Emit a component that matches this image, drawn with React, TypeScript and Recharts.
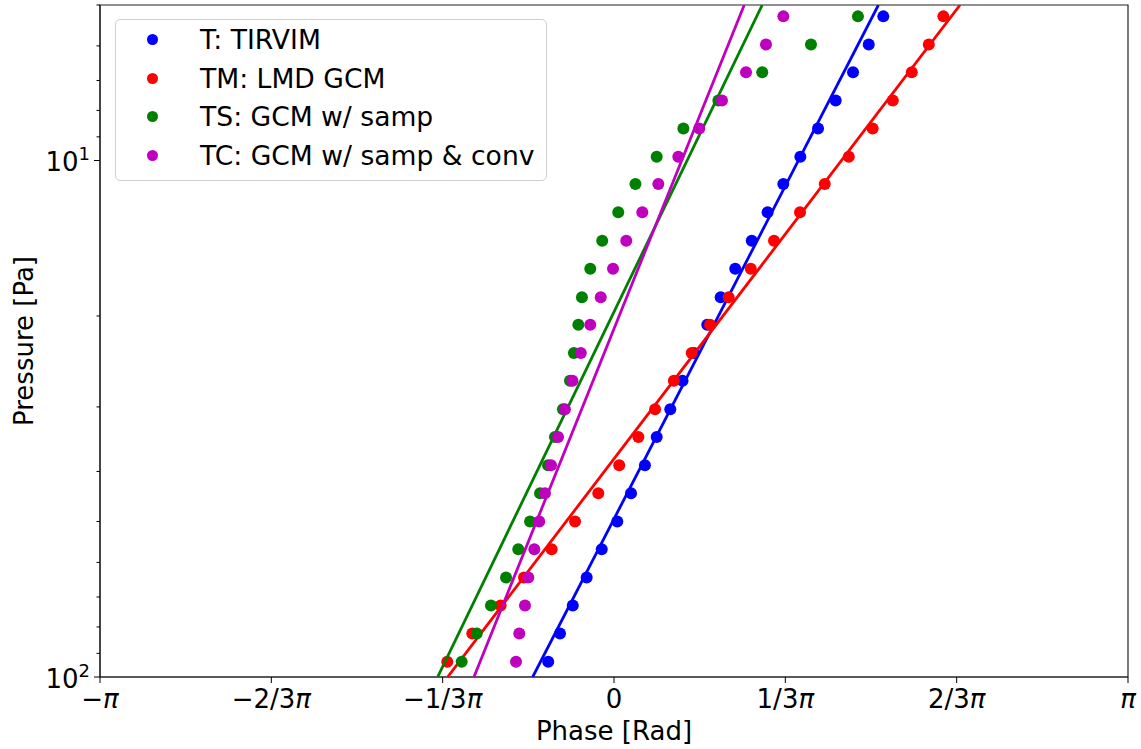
import { ScatterChart, Scatter, XAxis, YAxis, ReferenceArea, Legend } from 'recharts';

// pressure levels shared by all profiles [Pa], bottom to top
const pressureLevels = [
  93.4, 82.4, 72.7, 64.2, 56.6, 50.0, 44.1, 38.9, 34.3, 30.3, 26.7, 23.6,
  20.8, 18.4, 16.2, 14.3, 12.6, 11.1, 9.83, 8.67, 7.65, 6.75, 5.96, 5.26,
];

// phase [rad] at each level
const tirvim = [
  -0.402, -0.33, -0.252, -0.167, -0.075, 0.02, 0.104, 0.189, 0.261, 0.344, 0.419, 0.489,
  0.57, 0.652, 0.741, 0.842, 0.939, 1.035, 1.139, 1.247, 1.355, 1.461, 1.557, 1.646,
];
const lmdGcm = [
  -1.019, -0.866, -0.693, -0.55, -0.381, -0.238, -0.096, 0.032, 0.149, 0.251, 0.366, 0.475,
  0.587, 0.701, 0.836, 0.978, 1.137, 1.288, 1.435, 1.581, 1.704, 1.82, 1.924, 2.013,
];
const gcmSamp = [
  -0.931, -0.839, -0.752, -0.66, -0.585, -0.513, -0.452, -0.403, -0.361, -0.312, -0.269, -0.245,
  -0.218, -0.196, -0.145, -0.072, 0.026, 0.131, 0.261, 0.424, 0.638, 0.906, 1.204, 1.491,
];
const gcmSampConv = [
  -0.599, -0.579, -0.544, -0.524, -0.487, -0.457, -0.422, -0.385, -0.342, -0.3, -0.254, -0.203,
  -0.145, -0.081, -0.006, 0.075, 0.173, 0.271, 0.393, 0.521, 0.66, 0.807, 0.929, 1.035,
];

// fitted lines: phase at the bottom (100 Pa) and top (5 Pa) of the plot
const fitPressures = [100, 5];
const fitT = [-0.497, 1.616];
const fitTM = [-1.017, 2.115];
const fitTS = [-1.078, 0.906];
const fitTC = [-0.856, 0.796];

const phaseTicks = [-Math.PI, (-2 * Math.PI) / 3, -Math.PI / 3, 0, Math.PI / 3, (2 * Math.PI) / 3, Math.PI];
const phaseLabels = ['−π', '−2/3π', '−1/3π', '0', '1/3π', '2/3π', 'π'];
const pressureTicks = [5, 6, 7, 8, 9, 10, 20, 30, 40, 50, 60, 70, 80, 90, 100];
const majorPressure: Record<number, string> = { 10: '1', 100: '2' };

const series = [
  { name: 'T: TIRVIM', color: '#0000ff', phases: tirvim, fit: fitT },
  { name: 'TM: LMD GCM', color: '#ff0000', phases: lmdGcm, fit: fitTM },
  { name: 'TS: GCM w/ samp', color: '#008000', phases: gcmSamp, fit: fitTS },
  { name: 'TC: GCM w/ samp & conv', color: '#bf00bf', phases: gcmSampConv, fit: fitTC },
];

const FONT = 'DejaVu Sans';
const FS = 26;

const toPoints = (phases: number[], levels: number[]) =>
  phases.map((phase, i) => ({ phase, p: levels[i] }));

function PhaseTick({ x, y, payload }: any) {
  let idx = 0;
  phaseTicks.forEach((t, i) => {
    if (Math.abs(t - payload.value) < 1e-6) idx = i;
  });
  const label = phaseLabels[idx];
  const parts = label.split('π');
  return (
    <g>
      <line x1={x} x2={x} y1={y} y2={y + 6} stroke="#000" strokeWidth={1} />
      <text x={x} y={y + 31} textAnchor="middle" fontFamily={FONT} fontSize={FS} fill="#000">
        {parts[0]}
        {label.includes('π') && <tspan fontStyle="italic">π</tspan>}
      </text>
    </g>
  );
}

function PressureTick({ x, y, payload }: any) {
  const exp = majorPressure[payload.value];
  if (!exp) {
    return <line x1={x - 3.5} x2={x} y1={y} y2={y} stroke="#000" strokeWidth={1} />;
  }
  return (
    <g>
      <line x1={x - 6} x2={x} y1={y} y2={y} stroke="#000" strokeWidth={1} />
      <text x={x - 10} y={y + 11} textAnchor="end" fontFamily={FONT} fontSize={FS} fill="#000">
        10
        <tspan dy={-11} fontSize={18}>{exp}</tspan>
      </text>
    </g>
  );
}

function LegendBox() {
  return (
    <div
      style={{
        position: 'relative',
        width: 432,
        height: 162,
        boxSizing: 'border-box',
        border: '1px solid #d0d0d0',
        borderRadius: 5,
        background: 'rgba(255,255,255,0.8)',
        fontFamily: FONT,
        fontSize: 26.6,
      }}
    >
      {series.map((s, i) => (
        <div
          key={s.name}
          style={{ position: 'absolute', left: 0, top: 0.5 + i * 38.5, height: 38, display: 'flex', alignItems: 'center' }}
        >
          <span
            style={{ display: 'inline-block', width: 11, height: 11, borderRadius: '50%', background: s.color, marginLeft: 31 }}
          />
          <span style={{ marginLeft: 42, color: '#000', whiteSpace: 'nowrap' }}>{s.name}</span>
        </div>
      ))}
    </div>
  );
}

export default function App() {
  return (
    <div style={{ position: 'absolute', left: 0, top: 0, background: '#fff' }}>
      <ScatterChart width={1141} height={749} margin={{ top: 5, right: 13, left: 0, bottom: 0 }}>
        <XAxis
          type="number"
          dataKey="phase"
          domain={[-Math.PI, Math.PI]}
          ticks={phaseTicks}
          allowDataOverflow
          height={72}
          tickSize={0}
          tickMargin={0}
          tickLine={false}
          axisLine={{ stroke: '#222', strokeWidth: 1.2 }}
          tick={<PhaseTick />}
          interval={0}
          label={{
            content: ({ viewBox }: any) => (
              <text
                x={viewBox.x + viewBox.width / 2}
                y={viewBox.y + 63}
                textAnchor="middle"
                fontFamily={FONT}
                fontSize={FS}
                fill="#000"
              >
                Phase [Rad]
              </text>
            ),
          }}
        />
        <YAxis
          type="number"
          dataKey="p"
          scale="log"
          domain={[5, 100]}
          reversed
          allowDataOverflow
          ticks={pressureTicks}
          width={100}
          tickSize={0}
          tickMargin={0}
          tickLine={false}
          axisLine={{ stroke: '#222', strokeWidth: 1.2 }}
          tick={<PressureTick />}
          interval={0}
          label={{
            content: ({ viewBox }: any) => {
              const cx = viewBox.x + 24;
              const cy = viewBox.y + viewBox.height / 2;
              return (
                <text
                  x={cx}
                  y={cy}
                  transform={`rotate(-90 ${cx} ${cy})`}
                  textAnchor="middle"
                  dominantBaseline="central"
                  fontFamily={FONT}
                  fontSize={FS}
                  fill="#000"
                >
                  Pressure [Pa]
                </text>
              );
            },
          }}
        />
        {series.flatMap((s) => [
          <Scatter
            key={s.name + '-pts'}
            name={s.name}
            data={toPoints(s.phases, pressureLevels)}
            fill={s.color}
            isAnimationActive={false}
            shape={(props: any) => <circle cx={props.cx} cy={props.cy} r={6} fill={s.color} />}
          />,
          <Scatter
            key={s.name + '-fit'}
            legendType="none"
            data={toPoints(s.fit, fitPressures)}
            fill={s.color}
            line={{ stroke: s.color, strokeWidth: 2.8 }}
            isAnimationActive={false}
            shape={() => <g />}
          />,
        ])}
        <ReferenceArea
          x1={-Math.PI}
          x2={Math.PI}
          y1={5}
          y2={100}
          fill="none"
          fillOpacity={0}
          stroke="#222"
          strokeWidth={1.2}
        />
        <Legend
          layout="vertical"
          align="center"
          verticalAlign="middle"
          wrapperStyle={{ left: 115, top: 19, width: 432, height: 162 }}
          content={() => <LegendBox />}
        />
      </ScatterChart>
    </div>
  );
}
